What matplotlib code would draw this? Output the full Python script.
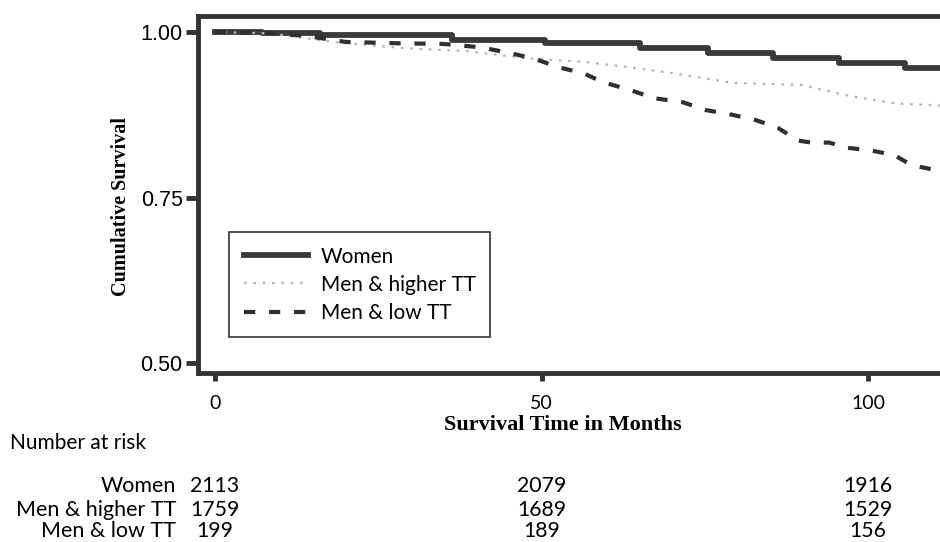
import matplotlib.pyplot as plt
import matplotlib.transforms as mtransforms
from matplotlib.lines import Line2D

# survival curves (months, cumulative survival)
women_t = [0, 7.2, 16.1, 36.3, 50.6, 65.1, 75.5, 85.4, 95.6, 105.6, 111.0]
women_s = [1.000, 0.999, 0.995, 0.988, 0.983, 0.976, 0.968, 0.961, 0.953, 0.945, 0.945]

high_t = [0, 8.4, 18.1, 28.4, 38.7, 47.9, 56.4, 62.5, 69.3, 79.4, 89.7, 97.4, 104.3, 111.0]
high_s = [1.000, 0.998, 0.985, 0.976, 0.971, 0.960, 0.955, 0.948, 0.939, 0.923, 0.920, 0.903, 0.892, 0.889]

low_t = [0, 8.4, 14.1, 20.0, 28.0, 35.0, 40.6, 45.3, 49.1, 52.5, 56.3, 59.5, 63.7, 67.2,
         71.6, 75.2, 78.7, 82.8, 86.2, 89.3, 91.3, 94.0, 96.9, 100.5, 104.0, 106.1, 108.1, 111.0]
low_s = [1.000, 0.998, 0.994, 0.985, 0.983, 0.982, 0.977, 0.968, 0.959, 0.947, 0.938, 0.924, 0.912, 0.900,
         0.894, 0.882, 0.876, 0.867, 0.855, 0.836, 0.833, 0.833, 0.825, 0.821, 0.814, 0.802, 0.796, 0.790]

groups = ['Women', 'Men & higher TT', 'Men & low TT']
risk_times = [0, 50, 100]
at_risk = [[2113, 2079, 1916],
           [1759, 1689, 1529],
           [199, 189, 156]]

fig = plt.figure(figsize=(9.4, 5.42), dpi=100)
ax = fig.add_axes([198/940, 1 - 373/542, 1 - 198/940, (373 - 16)/542])

ax.step(women_t, women_s, where='post', color='#3a3a3a', lw=4.2)
ax.plot(high_t, high_s, color='#b4b4b4', lw=1.6, ls=(0, (1.2, 3)))
ax.plot(low_t, low_s, color='#303030', lw=3, ls=(0, (2.7, 3.3)))

ax.set_xlim(-2.6, 111.0)
ax.set_ylim(0.4849, 1.0242)
ax.set_xticks([0, 50, 100])
ax.set_yticks([0.50, 0.75, 1.00])
ax.set_yticklabels(['0.50', '0.75', '1.00'], family='Liberation Sans', fontsize=15.5)
ax.set_xticklabels(['0', '50', '100'], family='Lato', fontsize=14)
ax.tick_params(axis='y', direction='out', length=9, width=3.5, color='#333333', pad=2)
ax.tick_params(axis='x', direction='out', length=6, width=3.5, color='#333333', pad=10)

for side in ['left', 'top', 'bottom']:
    ax.spines[side].set_linewidth(3.5)
    ax.spines[side].set_color('#333333')
ax.spines['right'].set_visible(False)

fig.text(121/940, 1 - 207/542, 'Cumulative Survival', rotation=90, ha='center', va='center',
         family='Liberation Serif', weight='bold', fontsize=14.5)
fig.text(563/940, 1 - 425/542, 'Survival Time in Months', ha='center', va='center',
         family='Liberation Serif', weight='bold', fontsize=16)

handles = [Line2D([], [], color='#3a3a3a', lw=4.2),
           Line2D([], [], color='#b4b4b4', lw=1.6, ls=(0, (1.2, 3))),
           Line2D([], [], color='#303030', lw=3, ls=(0, (2.7, 3.3)))]
leg = ax.legend(handles, groups, loc='upper left', bbox_to_anchor=((229 - 198)/742, 1 - (232 - 16)/357),
                prop={'family': 'Lato', 'size': 15}, frameon=True, fancybox=False,
                handlelength=3.1, handletextpad=0.6, borderpad=0.7, labelspacing=0.39,
                borderaxespad=0)
leg.get_frame().set_edgecolor('black')
leg.get_frame().set_linewidth(1.2)

# number at risk table
fig.text(10/940, 1 - 443/542, 'Number at risk', ha='left', va='center', family='Lato', fontsize=15)
row_y = [486, 510, 531]
trans = mtransforms.blended_transform_factory(ax.transData, fig.transFigure)
for name, counts, y in zip(groups, at_risk, row_y):
    fig.text(176/940, 1 - y/542, name, ha='right', va='center', family='Lato', fontsize=15.5)
    for t, n in zip(risk_times, counts):
        ax.text(t, 1 - y/542, str(n), transform=trans, ha='center', va='center',
                family='Lato', fontsize=15.3, clip_on=False)

fig.savefig('out.png', dpi=100)
